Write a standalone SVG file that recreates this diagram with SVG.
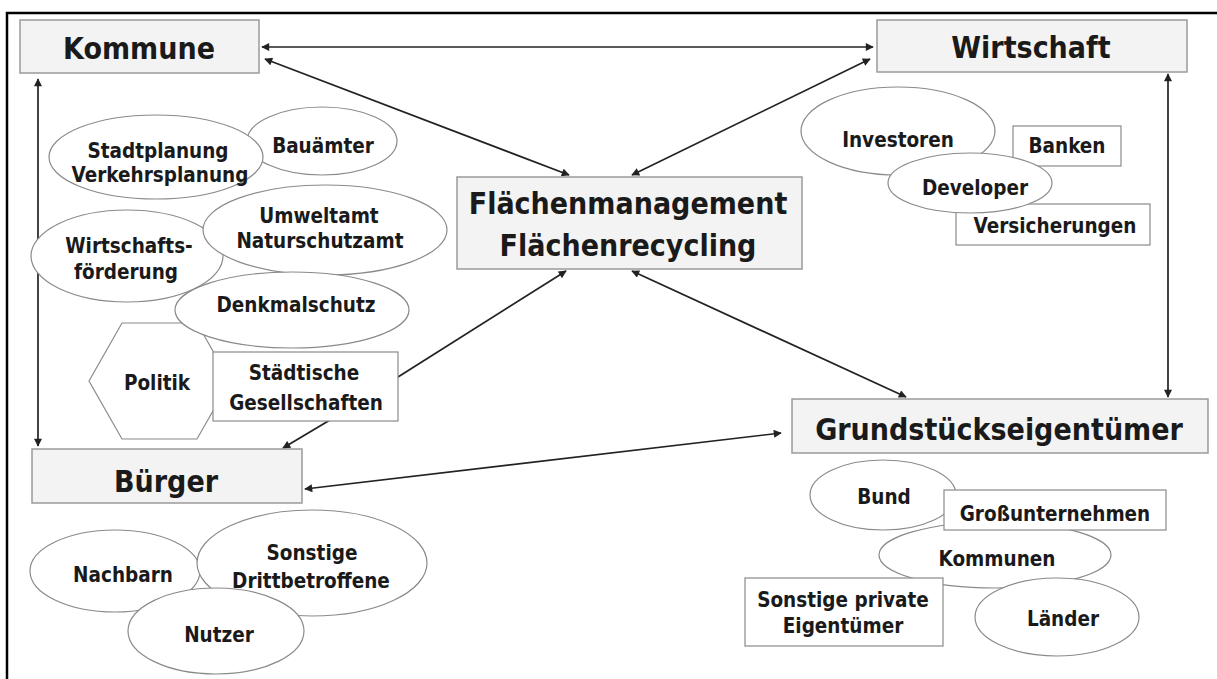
<svg xmlns="http://www.w3.org/2000/svg" width="1217" height="679" viewBox="0 0 1217 679">
  <style>
    text { font-family: "DejaVu Sans Condensed", "DejaVu Sans", "Liberation Sans", sans-serif; font-weight: bold; fill: #1a1a1a; text-anchor: middle; }
    .big { font-size: 30px; }
    .small { font-size: 20.5px; }
    .main { fill: #f3f3f3; stroke: #9a9a9a; stroke-width: 1.5; }
    .sub { fill: #ffffff; stroke: #8a8a8a; stroke-width: 1.2; }
    .link { fill: none; stroke: #222; stroke-width: 1.7; }
  </style>
  <defs>
    <marker id="arrow" viewBox="0 0 10 10" refX="9" refY="5" markerWidth="9" markerHeight="8" markerUnits="userSpaceOnUse" orient="auto-start-reverse">
      <path d="M0,0 L10,5 L0,10 Z" fill="#222"/>
    </marker>
  </defs>

  <rect width="1217" height="679" fill="#ffffff"/>
  <!-- frame -->
  <path d="M7,679 V13 H1217" fill="none" stroke="#000" stroke-width="2.5"/>

  <!-- connectors -->
  <g id="connectors">
    <line class="link" x1="262" y1="47" x2="873" y2="47" marker-start="url(#arrow)" marker-end="url(#arrow)"/>
    <line class="link" x1="265" y1="59" x2="569" y2="175" marker-start="url(#arrow)" marker-end="url(#arrow)"/>
    <line class="link" x1="870" y1="59" x2="632" y2="175" marker-start="url(#arrow)" marker-end="url(#arrow)"/>
    <line class="link" x1="38" y1="79" x2="38" y2="446" marker-start="url(#arrow)" marker-end="url(#arrow)"/>
    <line class="link" x1="1168" y1="74" x2="1168" y2="397" marker-start="url(#arrow)" marker-end="url(#arrow)"/>
    <line class="link" x1="632" y1="271" x2="906" y2="397" marker-start="url(#arrow)" marker-end="url(#arrow)"/>
    <line class="link" x1="398" y1="377" x2="566" y2="271" marker-end="url(#arrow)"/>
    <line class="link" x1="330" y1="420" x2="283" y2="448" marker-end="url(#arrow)"/>
    <line class="link" x1="305" y1="489" x2="781" y2="433" marker-start="url(#arrow)" marker-end="url(#arrow)"/>
  </g>

  <!-- main actors -->
  <g id="kommune">
    <rect class="main" x="20" y="20" width="239" height="53"/>
    <text class="big" x="139" y="59">Kommune</text>
  </g>
  <g id="wirtschaft">
    <rect class="main" x="877" y="20" width="310" height="52"/>
    <text class="big" x="1031" y="58">Wirtschaft</text>
  </g>
  <g id="flaechenmanagement">
    <rect class="main" x="457" y="177" width="345" height="92"/>
    <text class="big" x="628" y="214">Flächenmanagement</text>
    <text class="big" x="628" y="256">Flächenrecycling</text>
  </g>
  <g id="buerger">
    <rect class="main" x="32" y="449" width="270" height="54"/>
    <text class="big" x="166" y="492">Bürger</text>
  </g>
  <g id="grundstueckseigentuemer">
    <rect class="main" x="792" y="399" width="416" height="54"/>
    <text class="big" x="999" y="440">Grundstückseigentümer</text>
  </g>

  <!-- municipal bodies -->
  <g id="bauaemter">
    <ellipse class="sub" cx="322" cy="141" rx="75" ry="34"/>
    <text class="small" x="323" y="153">Bauämter</text>
  </g>
  <g id="stadtplanung">
    <ellipse class="sub" cx="156" cy="157" rx="107" ry="42"/>
    <text class="small" x="158" y="158">Stadtplanung</text>
    <text class="small" x="160" y="182">Verkehrsplanung</text>
  </g>
  <g id="wirtschaftsfoerderung">
    <ellipse class="sub" cx="127" cy="256" rx="96" ry="46"/>
    <text class="small" x="129" y="253">Wirtschafts-</text>
    <text class="small" x="126" y="279">förderung</text>
  </g>
  <g id="umweltamt">
    <ellipse class="sub" cx="325" cy="230" rx="122" ry="45"/>
    <text class="small" x="319" y="223">Umweltamt</text>
    <text class="small" x="320" y="248">Naturschutzamt</text>
  </g>
  <g id="politik">
    <polygon class="sub" points="89,381 122,323 197,323 230,381 197,439 122,439"/>
    <text class="small" x="157" y="390">Politik</text>
  </g>
  <g id="denkmalschutz">
    <ellipse class="sub" cx="292" cy="310" rx="117" ry="38"/>
    <text class="small" x="296" y="312">Denkmalschutz</text>
  </g>
  <g id="staedtische-gesellschaften">
    <rect class="sub" x="213" y="352" width="185" height="69"/>
    <text class="small" x="304" y="380">Städtische</text>
    <text class="small" x="306" y="410">Gesellschaften</text>
  </g>

  <!-- citizens -->
  <g id="nachbarn">
    <ellipse class="sub" cx="115" cy="571" rx="85" ry="41"/>
    <text class="small" x="123" y="582">Nachbarn</text>
  </g>
  <g id="drittbetroffene">
    <ellipse class="sub" cx="312" cy="563" rx="115" ry="53"/>
    <text class="small" x="312" y="560">Sonstige</text>
    <text class="small" x="311" y="588">Drittbetroffene</text>
  </g>
  <g id="nutzer">
    <ellipse class="sub" cx="216" cy="631" rx="88" ry="43"/>
    <text class="small" x="219" y="642">Nutzer</text>
  </g>

  <!-- economy -->
  <g id="investoren">
    <ellipse class="sub" cx="898" cy="131" rx="97" ry="44"/>
    <text class="small" x="898" y="147">Investoren</text>
  </g>
  <g id="banken">
    <rect class="sub" x="1013" y="126" width="108" height="40"/>
    <text class="small" x="1067" y="153">Banken</text>
  </g>
  <g id="versicherungen">
    <rect class="sub" x="956" y="204" width="194" height="41"/>
    <text class="small" x="1055" y="233">Versicherungen</text>
  </g>
  <g id="developer">
    <ellipse class="sub" cx="970" cy="183" rx="82" ry="30"/>
    <text class="small" x="975" y="195">Developer</text>
  </g>

  <!-- land owners -->
  <g id="bund">
    <ellipse class="sub" cx="883" cy="495" rx="73" ry="35"/>
    <text class="small" x="884" y="504">Bund</text>
  </g>
  <g id="kommunen">
    <ellipse class="sub" cx="995" cy="555" rx="116" ry="33"/>
    <text class="small" x="997" y="566">Kommunen</text>
  </g>
  <g id="grossunternehmen">
    <rect class="sub" x="944" y="490" width="222" height="40"/>
    <text class="small" x="1055" y="521">Großunternehmen</text>
  </g>
  <g id="sonstige-private">
    <rect class="sub" x="745" y="578" width="198" height="68"/>
    <text class="small" x="843" y="607">Sonstige private</text>
    <text class="small" x="843" y="633">Eigentümer</text>
  </g>
  <g id="laender">
    <ellipse class="sub" cx="1057" cy="617" rx="82" ry="39"/>
    <text class="small" x="1063" y="626">Länder</text>
  </g>
</svg>
